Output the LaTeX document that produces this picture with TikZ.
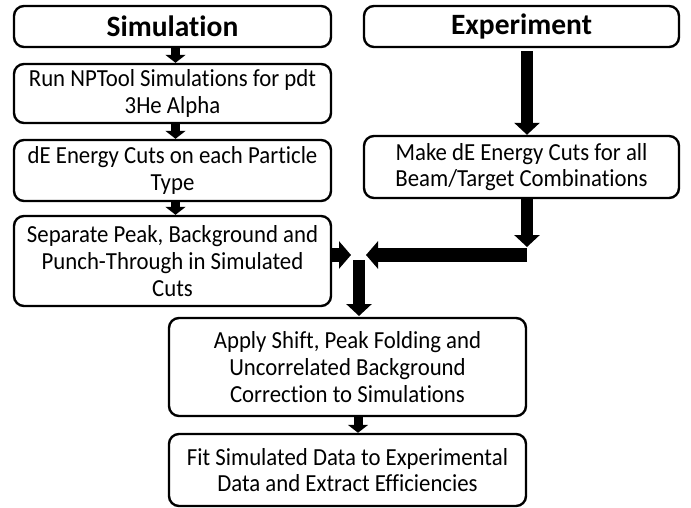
\documentclass[tikz,border=0pt]{standalone}
\usepackage{fontspec}
\setmainfont{Carlito}[Ligatures=NoCommon, FakeStretch=0.93]
\newfontfamily\titlefont{Carlito}[Ligatures=NoCommon]
\usetikzlibrary{arrows.meta}
\tikzset{
  box/.style={draw, line width=2.4pt, rounded corners=10pt, align=center, inner sep=0pt,
    font=\fontsize{24.5}{26.7}\selectfont},
  titlebox/.style={box, font=\titlefont\fontsize{29.5}{32}\selectfont\bfseries},
  smallarr/.style={line width=9pt, -{Triangle[width=20pt,length=8pt]}},
  bigarr/.style={line width=12pt, -{Triangle[width=25pt,length=12pt]}},
  merarr/.style={line width=14pt, -{Triangle[width=27pt,length=12pt]}}
}
\begin{document}
\begin{tikzpicture}[x=1pt,y=-1pt]
\useasboundingbox (0,0) rectangle (691,508);
\node[titlebox, minimum width=317pt, minimum height=41pt] (sim) at (172.5,26.5) {Simulation};
\node[box, minimum width=317pt, minimum height=59pt] (run) at (172.5,93.5) {Run NPTool Simulations for pdt\\3He Alpha};
\node[box, minimum width=317pt, minimum height=61pt] (de) at (172.5,170.5) {dE Energy Cuts on each Particle\\Type};
\node[box, minimum width=317pt, minimum height=90pt] (sep) at (172.5,261) {Separate Peak, Background and\\Punch-Through in Simulated\\Cuts};
\node[titlebox, minimum width=315pt, minimum height=41pt] (exp) at (521.5,26.5) {Experiment};
\node[box, minimum width=315pt, minimum height=62pt] (make) at (521.5,167) {Make dE Energy Cuts for all\\Beam/Target Combinations};
\node[box, minimum width=357pt, minimum height=98pt] (apply) at (347.5,367) {Apply Shift, Peak Folding and\\Uncorrelated Background\\Correction to Simulations};
\node[box, minimum width=357pt, minimum height=72pt] (fit) at (347.5,470) {Fit Simulated Data to Experimental\\Data and Extract Efficiencies};
\coordinate (vend) at (527,247);
\coordinate (hstart) at (527,255);
\coordinate (mleft) at (366,255);
\coordinate (mright) at (351,255);
\coordinate (mtop) at (359,260);
\coordinate (mbot) at (359,316);
\draw[smallarr] ([xshift=3pt]sim.south) -- ([xshift=3pt]run.north);
\draw[smallarr] ([xshift=3pt]run.south) -- ([xshift=3pt]de.north);
\draw[smallarr] ([xshift=3pt]de.south) -- ([xshift=3pt]sep.north);
\draw[bigarr] ([xshift=5.5pt,yshift=-3pt]exp.south) -- ([xshift=5.5pt]make.north);
\draw[bigarr] ([xshift=5.5pt]make.south) -- (vend);
\draw[merarr] (hstart) -- (mleft);
\draw[merarr] (sep.east |- mright) -- (mright);
\draw[bigarr] (mtop) -- (mbot);
\draw[smallarr] ([xshift=10.5pt]apply.south) -- ([xshift=10.5pt]fit.north);
\end{tikzpicture}
\end{document}
